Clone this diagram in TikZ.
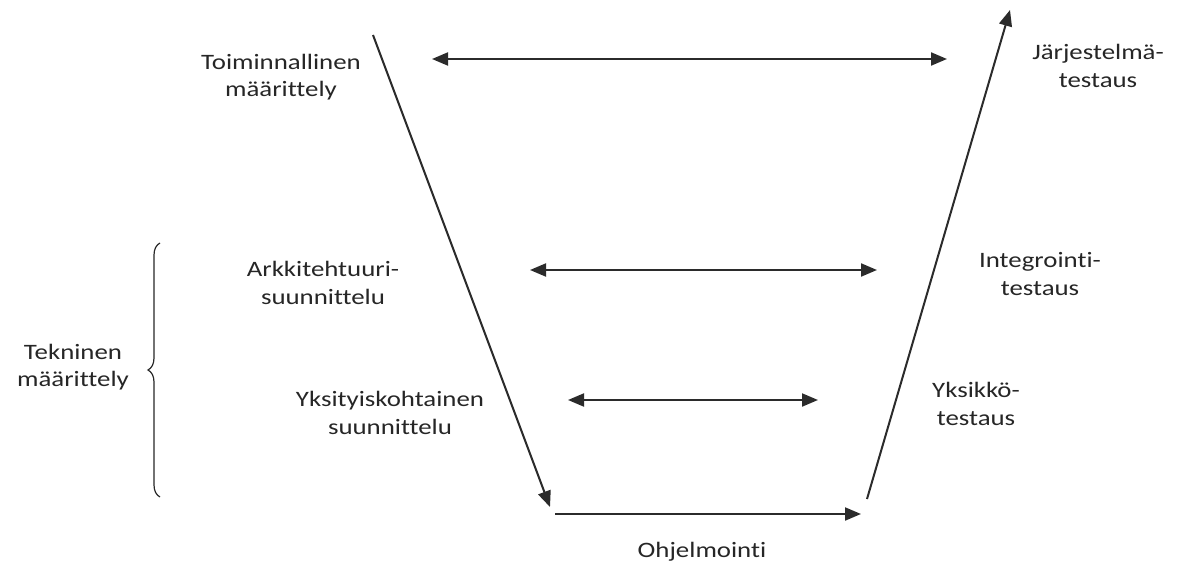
\documentclass[tikz,border=0pt]{standalone}
\usepackage{fontspec}
\setmainfont{Carlito}[FakeStretch=1.22,Ligatures=NoCommon]
\usetikzlibrary{arrows.meta,decorations.pathreplacing}
\definecolor{ink}{HTML}{2B2B2B}
\definecolor{txt}{HTML}{262626}

\begin{document}
\begin{tikzpicture}[x=1pt,y=-1pt]

\tikzset{lbl/.style={text=txt,align=center,inner sep=0pt,
  font=\fontsize{22}{27.5}\selectfont}}
\tikzset{vline/.style={ink,line width=2pt,-{Triangle[length=16pt,width=13pt]}}}
\tikzset{pair/.style={ink,line width=2pt,
  {Triangle[length=16pt,width=13pt]}-{Triangle[length=16pt,width=13pt]}}}

\useasboundingbox (0,0) rectangle (1184,567);

% the V
\coordinate (lt) at (373,35);
\coordinate (lb) at (550,507);
\coordinate (bl) at (555,514);
\coordinate (br) at (861,514);
\coordinate (rb) at (867,499);
\coordinate (rt) at (1010,10);
\draw[vline] (lt) -- (lb);
\draw[vline] (bl) -- (br);
\draw[vline] (rb) -- (rt);

% levels
\coordinate (a1) at (432,59);  \coordinate (a2) at (947,59);
\coordinate (b1) at (530,270); \coordinate (b2) at (877,270);
\coordinate (c1) at (568,400); \coordinate (c2) at (818,400);
\draw[pair] (a1) -- (a2);
\draw[pair] (b1) -- (b2);
\draw[pair] (c1) -- (c2);

\node[lbl] (toim) at (281,77)   {Toiminnallinen\\määrittely};
\node[lbl] (jarj) at (1098,66)  {Järjestelmä-\\testaus};
\node[lbl] (arkk) at (323,283)  {Arkkitehtuuri-\\suunnittelu};
\node[lbl] (integ) at (1040,274) {Integrointi-\\testaus};
\node[lbl] (yksit) at (390,413) {Yksityiskohtainen\\suunnittelu};
\node[lbl] (yksik) at (976,404) {Yksikkö-\\testaus};
\node[lbl] (tekn) at (73,367)   {Tekninen\\määrittely};
\node[lbl] (ohj) at (702,552)   {Ohjelmointi};

% brace
\coordinate (bt) at (160,243);
\coordinate (bb) at (160,497);
\draw[txt,line width=1.2pt,decorate,decoration={brace,amplitude=12pt}] (bb) -- (bt);

\end{tikzpicture}
\end{document}
